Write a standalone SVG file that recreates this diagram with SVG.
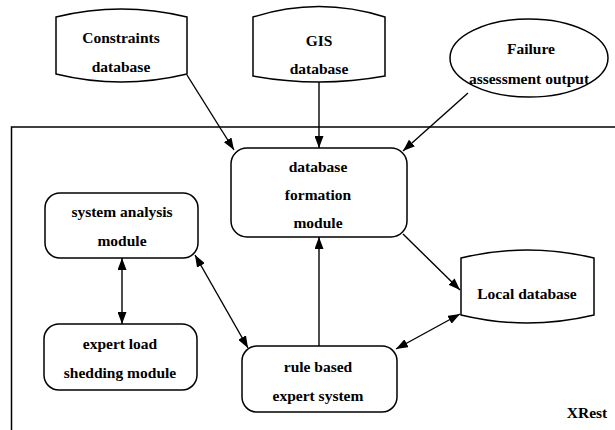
<svg xmlns="http://www.w3.org/2000/svg" width="615" height="430" viewBox="0 0 615 430">
  <style>
    .shape { fill: #ffffff; stroke: #000000; stroke-width: 1.5; }
    .frame { fill: none; stroke: #000000; stroke-width: 1.5; }
    .label { font-weight: bold; font-size: 15.5px; fill: #000000; text-anchor: middle; }
    .edge { fill: none; stroke: #000000; stroke-width: 1.4; }
  </style>
  <defs>
    <marker id="arrow" viewBox="0 0 12 9" refX="12" refY="4.5" markerWidth="12" markerHeight="9" markerUnits="userSpaceOnUse" orient="auto-start-reverse">
      <path d="M0,0 L12,4.5 L0,9 Z" fill="#000000"/>
    </marker>
  </defs>

  <rect width="615" height="430" fill="#ffffff"/>

  <g font-family="'Liberation Serif', 'DejaVu Serif', serif">
    <!-- XRest system boundary -->
    <g id="xrest">
      <path class="frame" d="M11.5,440 L11.5,127 L620,127"/>
      <text class="label" x="587" y="418">XRest</text>
    </g>

    <!-- external data sources -->
    <g id="constraints-db">
      <path class="shape" d="M56,17 Q121,1 187,17 L187,74 Q121,90 56,74 Z"/>
      <text class="label" x="121" y="43">Constraints</text>
      <text class="label" x="121" y="72">database</text>
    </g>

    <g id="gis-db">
      <path class="shape" d="M253,17 Q319,-4 385,17 L385,76 Q319,88 253,76 Z"/>
      <text class="label" x="319" y="46">GIS</text>
      <text class="label" x="319" y="74">database</text>
    </g>

    <g id="failure-output">
      <ellipse class="shape" cx="529" cy="58" rx="79" ry="39"/>
      <text class="label" x="531" y="54">Failure</text>
      <text class="label" x="529" y="84">assessment output</text>
    </g>

    <!-- internal modules -->
    <g id="db-formation">
      <rect class="shape" x="231" y="148" width="176" height="89" rx="16" ry="16"/>
      <text class="label" x="318" y="172">database</text>
      <text class="label" x="318" y="200">formation</text>
      <text class="label" x="318" y="228">module</text>
    </g>

    <g id="system-analysis">
      <rect class="shape" x="45" y="193" width="153" height="65" rx="15" ry="15"/>
      <text class="label" x="122" y="217">system analysis</text>
      <text class="label" x="122" y="246">module</text>
    </g>

    <g id="load-shedding">
      <rect class="shape" x="44" y="324" width="153" height="66" rx="15" ry="15"/>
      <text class="label" x="120" y="349">expert load</text>
      <text class="label" x="120" y="378">shedding module</text>
    </g>

    <g id="rule-based">
      <rect class="shape" x="242" y="346" width="155" height="66" rx="15" ry="15"/>
      <text class="label" x="318" y="372">rule based</text>
      <text class="label" x="318" y="401">expert system</text>
    </g>

    <g id="local-db">
      <path class="shape" d="M461,258 Q527,242 594,258 L594,315 Q527,331 461,315 Z"/>
      <text class="label" x="527" y="299">Local database</text>
    </g>
  </g>

  <!-- connectors -->
  <g id="connectors">
    <line class="edge" x1="187" y1="75" x2="234" y2="150" marker-end="url(#arrow)"/>
    <line class="edge" x1="319" y1="82" x2="319" y2="148" marker-end="url(#arrow)"/>
    <line class="edge" x1="468" y1="93" x2="403" y2="151" marker-end="url(#arrow)"/>
    <line class="edge" x1="403" y1="234" x2="460" y2="290" marker-end="url(#arrow)"/>
    <line class="edge" x1="319" y1="346" x2="319" y2="237" marker-end="url(#arrow)"/>
    <line class="edge" x1="396" y1="349" x2="460" y2="314" marker-start="url(#arrow)" marker-end="url(#arrow)"/>
    <line class="edge" x1="195" y1="255" x2="248" y2="348" marker-start="url(#arrow)" marker-end="url(#arrow)"/>
    <line class="edge" x1="122" y1="258" x2="122" y2="324" marker-start="url(#arrow)" marker-end="url(#arrow)"/>
  </g>
</svg>
